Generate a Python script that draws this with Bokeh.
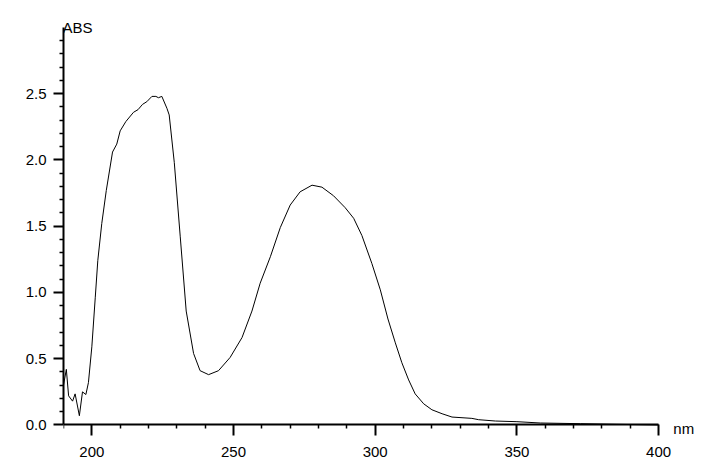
from bokeh.plotting import figure
from bokeh.models import FixedTicker, Label, NumeralTickFormatter, Range1d
from bokeh.embed import file_html
from bokeh.resources import INLINE

wavelength_nm = [190.0, 191.0, 191.8, 193.2, 194.1, 195.6, 196.7, 197.9, 198.8, 200.0,
                 201.2, 202.1, 203.5, 205.1, 207.3, 208.8, 210.0, 212.0, 214.7, 216.3,
                 217.9, 219.4, 221.2, 222.6, 223.5, 224.7, 226.5, 227.3, 229.1, 231.2,
                 233.3, 235.9, 238.2, 241.2, 244.7, 248.8, 253.0, 256.5, 259.4, 263.0,
                 266.5, 270.0, 273.5, 277.7, 281.2, 285.3, 289.4, 292.4, 295.3, 298.8,
                 301.8, 304.5, 307.1, 309.4, 311.8, 314.1, 317.1, 320.0, 323.6, 327.1,
                 334.1, 336.5, 342.4, 350.0, 358.3, 372.4, 385.0, 400.0]
absorbance = [0.30, 0.42, 0.22, 0.18, 0.235, 0.07, 0.25, 0.23, 0.32, 0.59,
              0.96, 1.24, 1.52, 1.77, 2.06, 2.12, 2.22, 2.29, 2.36, 2.38,
              2.42, 2.44, 2.48, 2.48, 2.47, 2.48, 2.39, 2.34, 1.98, 1.42,
              0.86, 0.54, 0.41, 0.38, 0.41, 0.51, 0.66, 0.86, 1.07, 1.27,
              1.49, 1.66, 1.76, 1.81, 1.795, 1.73, 1.64, 1.56, 1.43, 1.22,
              1.02, 0.80, 0.62, 0.47, 0.34, 0.235, 0.16, 0.115, 0.085, 0.06,
              0.05, 0.04, 0.03, 0.025, 0.015, 0.01, 0.005, 0.0]

x_major = [200, 250, 300, 350, 400]
x_minor = [190, 210, 220, 230, 240, 260, 270, 280, 290, 310, 320, 330, 340, 360, 370, 380, 390]
y_major = [0.0, 0.5, 1.0, 1.5, 2.0, 2.5]
y_minor = [round(0.1 * i, 1) for i in range(1, 30) if i % 5 != 0]

FONT = "Liberation Sans"
FS = "15px"

p = figure(width=704, height=462, output_backend="svg", toolbar_location=None,
           x_range=Range1d(190, 416.2), y_range=Range1d(-0.2604, 3.1283),
           min_border_left=63, min_border_right=0, min_border_top=10, min_border_bottom=3)
p.outline_line_color = None
p.xgrid.visible = False
p.ygrid.visible = False
p.background_fill_color = "white"
p.border_fill_color = "white"

p.line(wavelength_nm, absorbance, line_color="black", line_width=1)

for ax in (p.xaxis[0], p.yaxis[0]):
    ax.axis_line_width = 2
    ax.axis_line_color = "black"
    ax.major_tick_line_width = 2
    ax.minor_tick_line_width = 1.5
    ax.major_tick_in = 0
    ax.minor_tick_in = 0
    ax.minor_tick_out = 4
    ax.major_label_text_font = FONT
    ax.major_label_text_font_size = FS
    ax.major_label_text_color = "black"

p.xaxis[0].fixed_location = 0
p.xaxis[0].bounds = (190, 400)
p.xaxis[0].ticker = FixedTicker(ticks=x_major, minor_ticks=x_minor)
p.xaxis[0].major_tick_out = 11
p.xaxis[0].major_label_standoff = 11
p.yaxis[0].bounds = (0, 3.0)
p.yaxis[0].ticker = FixedTicker(ticks=y_major, minor_ticks=y_minor)
p.yaxis[0].major_tick_out = 10
p.yaxis[0].major_label_standoff = 7
p.yaxis[0].formatter = NumeralTickFormatter(format="0.0")

p.add_layout(Label(x=190, y=3.0, x_offset=-1, text="ABS", text_font=FONT, text_font_size=FS,
                   text_align="left", text_baseline="alphabetic", text_color="black"))
p.add_layout(Label(x=405.2, y=-0.03, text="nm", text_font=FONT, text_font_size=FS,
                   text_align="left", text_baseline="alphabetic", text_color="black"))

open("out.html", "w").write(file_html(p, INLINE))
